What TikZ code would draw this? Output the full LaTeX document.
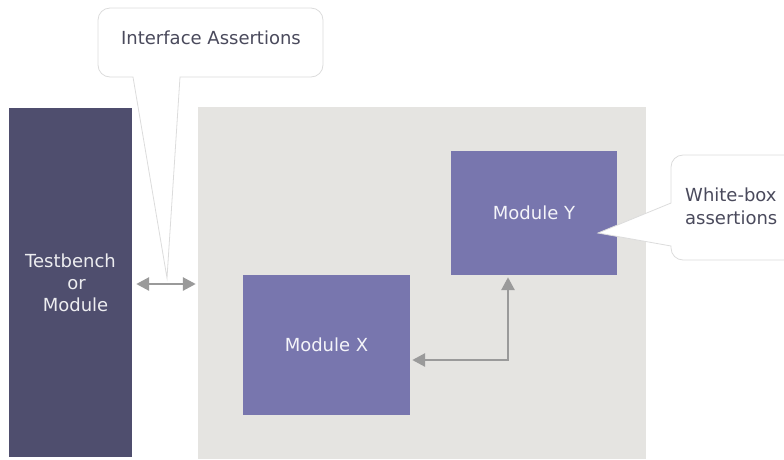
\documentclass[tikz,border=0pt]{standalone}
\usepackage{fontspec}
\setmainfont{DejaVu Sans}
\usetikzlibrary{arrows.meta,calc}
\definecolor{tbcol}{HTML}{4F4E6E}
\definecolor{modcol}{HTML}{7876AE}
\definecolor{bgcol}{HTML}{E5E4E1}
\definecolor{arrcol}{HTML}{9A9A9A}
\definecolor{txtcol}{HTML}{4A4A5C}
\definecolor{callcol}{HTML}{DCDCDC}
\tikzset{
  block/.style={draw=none,inner sep=0pt,align=center,font=\fontsize{18}{22}\selectfont},
  modbox/.style={block,fill=modcol,text=white!92!modcol},
  callout/.style={fill=white,draw=callcol,line width=0.8pt},
  calltext/.style={inner sep=0pt,align=left,text=txtcol,font=\fontsize{18}{23}\selectfont},
  garrow/.style={draw=arrcol,line width=2.8pt,{Triangle[length=13pt,width=13pt]}-{Triangle[length=13pt,width=13pt]}},
}
\begin{document}
\begin{tikzpicture}[x=1pt,y=-1pt]
\useasboundingbox (0,0) rectangle (784,459);
\clip (0,0) rectangle (784,459);
% background panel and blocks
\node[block,fill=bgcol,minimum width=448,minimum height=352] (bg) at (422,283) {};
\node[block,fill=tbcol,text=white!90!tbcol,minimum width=123,minimum height=349] (tb) at (70.5,282.5) {Testbench\\\hspace*{12pt}or\\\hspace*{10pt}Module};
\node[modbox,minimum width=166,minimum height=124] (my) at (534,213) {Module Y};
\node[modbox,minimum width=167,minimum height=140] (mx) at (326.5,345) {Module X};
% connectors
\draw[garrow] ([xshift=4,yshift=-1.5]tb.east) -- ([xshift=-2,yshift=-1]bg.west);
\draw[garrow] ([xshift=2,yshift=-15]mx.east) -| ([xshift=-26,yshift=-2]my.south);
% interface callout
\coordinate (ip) at (167,278);
\draw[callout] (133,77) [rounded corners=12] -- (98,77) -- (98,8) -- (323,8) -- (323,77) [sharp corners] -- (180,77) -- (ip) -- cycle;
\fill[white] (134,75.5) rectangle (179,78.5);
\node[calltext] (ia) at (211,38) {Interface Assertions};
% white-box callout
\coordinate (wp) at (598,233);
\draw[callout] (671,203) [rounded corners=12] -- (671,155) -- (800,155) -- (800,260) -- (671,260) [sharp corners] -- (671,246) -- (wp) -- cycle;
\fill[white] (669.5,204) rectangle (672.5,245);
\node[calltext,anchor=west] (wb) at (685,206) {White-box\\assertions};
\end{tikzpicture}
\end{document}
